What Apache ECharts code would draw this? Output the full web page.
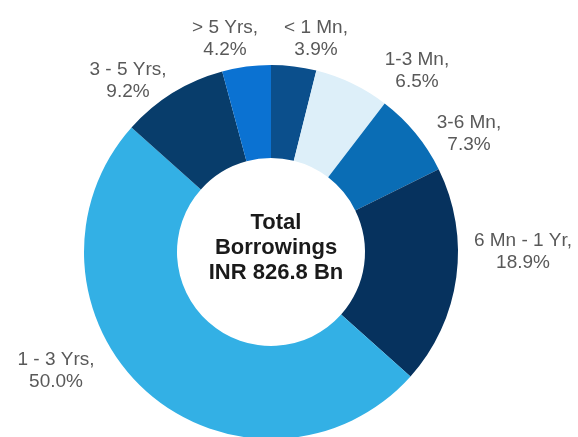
<!DOCTYPE html>
<html><head><meta charset="utf-8">
<script src="https://cdn.jsdelivr.net/npm/echarts@6/dist/echarts.min.js"></script>
<style>html,body{margin:0;padding:0;background:#fff}#c{width:578px;height:437px}</style>
</head><body><div id="c"></div>
<script>
const categories = ['< 1 Mn', '1-3 Mn', '3-6 Mn', '6 Mn - 1 Yr', '1 - 3 Yrs', '3 - 5 Yrs', '> 5 Yrs'];
const shares = [3.9, 6.5, 7.3, 18.9, 50.0, 9.2, 4.2];
const sliceColors = ['#0b4f8c', '#ddeff9', '#0a6db5', '#06325e', '#33b0e5', '#083d6b', '#0b72d2'];
const labelCenters = [[316, 39], [417, 71], [469, 134], [523, 252], [56, 371], [128, 81], [225, 39]];
const centerText = 'Total\nBorrowings\nINR 826.8 Bn';

const chart = echarts.init(document.getElementById('c'), null, {renderer: 'canvas'});
chart.setOption({
  animation: false,
  backgroundColor: '#ffffff',
  graphic: [{
    type: 'text', x: 276, y: 248,
    style: {
      text: centerText, fill: '#1a1a1a', font: 'bold 22px "Liberation Sans", Arial, sans-serif',
      lineHeight: 25, textAlign: 'center', textVerticalAlign: 'middle'
    }, z: 10
  }],
  series: [{
    type: 'pie',
    center: [271, 252],
    radius: [94, 187],
    startAngle: 90,
    clockwise: true,
    avoidLabelOverlap: false,
    data: categories.map((c, i) => ({name: c, value: shares[i], itemStyle: {color: sliceColors[i]}})),
    itemStyle: {borderWidth: 0},
    label: {
      show: true, position: 'outside',
      formatter: p => p.name + ',\n' + p.value.toFixed(1) + '%',
      fontFamily: '"Liberation Sans", Arial, sans-serif', fontSize: 19, lineHeight: 22, color: '#595959'
    },
    labelLine: {show: false},
    labelLayout: p => ({
      x: labelCenters[p.dataIndex][0], y: labelCenters[p.dataIndex][1],
      align: 'center', verticalAlign: 'middle'
    })
  }]
});
</script></body></html>
